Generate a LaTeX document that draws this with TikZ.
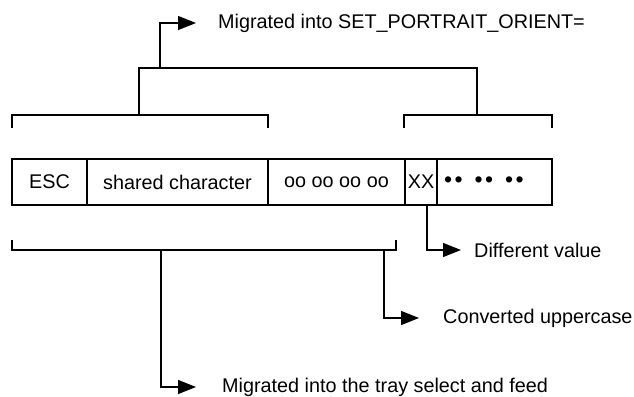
\documentclass[tikz,border=0pt]{standalone}
\usepackage{fontspec}
\setmainfont{Liberation Sans}
\usetikzlibrary{positioning,arrows.meta}
\tikzstyle{wire} = [draw=black, line width=1.4pt]
\tikzstyle{pointer} = [wire, -{Triangle[length=18pt,width=14pt]}]
\tikzstyle{cell} = [draw=black, line width=1.4pt, rectangle, outer sep=0pt,
    inner sep=0pt, minimum height=46pt, font=\fontsize{19.8}{23}\selectfont]
\tikzstyle{note} = [inner sep=0pt, font=\fontsize{19.8}{23}\selectfont]

\begin{document}
\begin{tikzpicture}[x=1pt,y=-1pt]
    \useasboundingbox (0,0) rectangle (634,396);
    % the byte string
    \node[cell, minimum width=75pt, anchor=north west] (esc) at (12,159) {ESC};
    \node[cell, minimum width=181pt, right=0pt of esc] (shared) {shared character};
    \node[cell, minimum width=137pt, right=0pt of shared] (octets) {oo oo oo oo};
    \node[cell, minimum width=32pt, right=0pt of octets] (xx) {XX};
    \node[cell, minimum width=115pt, text width=101pt, align=left, right=0pt of xx] (rest)
        {\fontsize{23}{23}\selectfont •\hspace{2.5pt}•\hspace{12pt}•\hspace{2.5pt}•\hspace{12pt}•\hspace{2.5pt}•};
    % brackets above
    \draw[wire] (12,128) |- (268,115) -- (268,128);
    \draw[wire] (404,128) |- (552,115) -- (552,128);
    \draw[wire] (139,115) |- (477,68) -- (477,115);
    % bracket below
    \draw[wire] (12,240) |- (396,250) -- (396,240);
    % arrow ends
    \coordinate (toparrow) at (196,23);
    \coordinate (xxarrow) at (461,250);
    \coordinate (uparrow) at (419,318);
    \coordinate (trayarrow) at (196,387);
    \draw[pointer] (160,68) |- (toparrow);
    \draw[pointer] ([xshift=6pt]xx.south) |- (xxarrow);
    \draw[pointer] (384,250) |- (uparrow);
    \draw[pointer] (161,250) |- (trayarrow);
    % notes
    \node[note, right=22pt of toparrow] (orient) {Migrated into SET\_PORTRAIT\_ORIENT=};
    \node[note, right=13pt of xxarrow] (diff) {Different value};
    \node[note, right=24pt of uparrow] (upper) {Converted uppercase};
    \node[note, right=26pt of trayarrow] (tray) {Migrated into the tray select and feed};
\end{tikzpicture}
\end{document}
